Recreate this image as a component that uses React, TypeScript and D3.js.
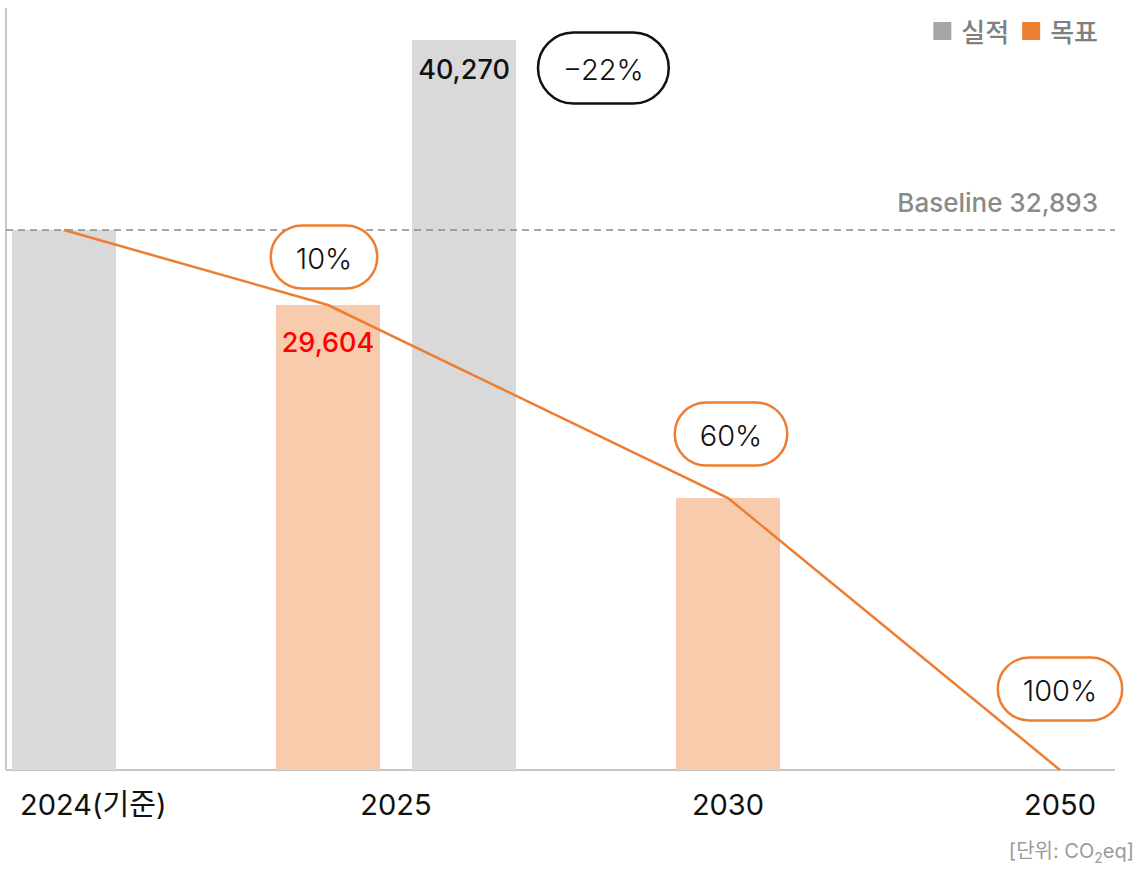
import React, { useEffect, useRef } from "react";
import * as d3 from "d3";

// ---- data ----
const categories = ["2024(기준)", "2025", "2030", "2050"];
const actualValues: (number | null)[] = [32893, 40270, null, null];
const targetValues: (number | null)[] = [null, 29604, 13157, 0];
const pathwayValues = [32893, 29604, 13157, 0];
const reductionLabels: (string | null)[] = [null, "10%", "60%", "100%"];
const actualChangeLabels: (string | null)[] = [null, "−22%", null, null];
const showActualValue = [false, true, false, false];
const showTargetValue = [false, true, false, false];
const baselineValue = 32893;
const legendLabels = ["실적", "목표"];

const W = 1139;
const H = 878;

export default function App() {
  const ref = useRef<SVGSVGElement>(null);

  useEffect(() => {
    const svg = d3.select(ref.current);
    svg.selectAll("*").remove();
    const FONT = "Inter, 'Noto Sans CJK KR', sans-serif";
    const GRAY_BAR = "#d9d9d9";
    const ORANGE_BAR = "#f8cbad";
    const ORANGE = "#ed7d31";

    const xLeft = 6, xRight = 1115, yBottom = 770, yTopAxis = 8;
    const x = d3.scalePoint<string>().domain(categories).range([64, 1060]);
    // chart is drawn not-to-scale in the source: piecewise linear value scale
    const y = d3
      .scaleLinear()
      .domain([0, targetValues[2] as number, targetValues[1] as number, baselineValue, actualValues[1] as number])
      .range([yBottom, 498, 305, 230, 40]);

    const barW = 104;
    const pairOff = 68;
    const fmt = d3.format(",");

    // axes
    svg.append("line").attr("x1", xLeft).attr("x2", xRight).attr("y1", yBottom).attr("y2", yBottom)
      .attr("stroke", "#c4c4c4").attr("stroke-width", 2);
    svg.append("line").attr("x1", xLeft).attr("x2", xLeft).attr("y1", yTopAxis).attr("y2", yBottom)
      .attr("stroke", "#c8c8c8").attr("stroke-width", 2);

    // bars
    categories.forEach((c, i) => {
      const cx = x(c) as number;
      const a = actualValues[i];
      const t = targetValues[i];
      const hasA = a != null && a > 0;
      const hasT = t != null && t > 0;
      const both = hasA && hasT;
      if (hasT) {
        const bx = both ? cx - pairOff : cx;
        svg.append("rect").attr("x", bx - barW / 2).attr("width", barW)
          .attr("y", y(t as number)).attr("height", yBottom - y(t as number)).attr("fill", ORANGE_BAR);
        if (showTargetValue[i]) {
          svg.append("text").attr("x", bx).attr("y", y(t as number) + 37)
            .attr("text-anchor", "middle").attr("dominant-baseline", "central")
            .attr("font-family", FONT).attr("font-size", 27).attr("font-weight", 500)
            .attr("fill", "#ff0000").text(fmt(t as number));
        }
      }
      if (hasA) {
        const bx = both ? cx + pairOff : cx;
        svg.append("rect").attr("x", bx - barW / 2).attr("width", barW)
          .attr("y", y(a as number)).attr("height", yBottom - y(a as number)).attr("fill", GRAY_BAR);
        if (showActualValue[i]) {
          svg.append("text").attr("x", bx).attr("y", y(a as number) + 29)
            .attr("text-anchor", "middle").attr("dominant-baseline", "central")
            .attr("font-family", FONT).attr("font-size", 27).attr("font-weight", 500)
            .attr("fill", "#111").text(fmt(a as number));
        }
        const lab = actualChangeLabels[i];
        if (lab) {
          pill(bx + barW / 2 + 22, y(a as number) + 28, lab, "#111", 71, "start");
        }
      }
    });

    // baseline
    svg.append("line").attr("x1", xLeft).attr("x2", xRight).attr("y1", y(baselineValue)).attr("y2", y(baselineValue))
      .attr("stroke", "#8a8a8a").attr("stroke-width", 1.6).attr("stroke-dasharray", "7 5");
    svg.append("text").attr("x", 1098).attr("y", y(baselineValue) - 18)
      .attr("text-anchor", "end").attr("font-family", FONT).attr("font-size", 26).attr("font-weight", 500)
      .attr("fill", "#8a8a8a").text(`Baseline ${fmt(baselineValue)}`);

    // pathway line
    const line = d3.line<number>()
      .x((_, i) => {
        const c = categories[i];
        const cx = x(c) as number;
        const a = actualValues[i];
        const t = targetValues[i];
        const both = a != null && a > 0 && t != null && t > 0;
        return both ? cx - pairOff : cx;
      })
      .y((v) => y(v));
    svg.append("path").datum(pathwayValues).attr("d", line).attr("fill", "none")
      .attr("stroke", ORANGE).attr("stroke-width", 2.5);

    // reduction pills
    const pillDy = [0, -48, -64, -81];
    const pillDx = [0, -4, 3, 0];
    reductionLabels.forEach((lab, i) => {
      if (!lab) return;
      const c = categories[i];
      const cx = x(c) as number;
      const a = actualValues[i];
      const t = targetValues[i];
      const both = a != null && a > 0 && t != null && t > 0;
      const px = (both ? cx - pairOff : cx) + pillDx[i];
      pill(px, y(pathwayValues[i]) + pillDy[i], lab, ORANGE, 63, "middle");
    });

    function pill(px: number, py: number, label: string, stroke: string, h: number, anchor: string) {
      const g = svg.append("g");
      const txt = g.append("text").attr("font-family", FONT).attr("font-size", 29).attr("font-weight", 300)
        .attr("fill", "#111").attr("dominant-baseline", "central").attr("text-anchor", "middle").text(label);
      const tw = (txt.node() as SVGTextElement).getComputedTextLength();
      const w = tw + 50;
      const cx = anchor === "start" ? px + w / 2 : px;
      txt.attr("x", cx).attr("y", py + 1);
      g.insert("rect", "text").attr("x", cx - w / 2).attr("y", py - h / 2).attr("width", w).attr("height", h)
        .attr("rx", h / 2).attr("ry", h / 2).attr("fill", "#fff").attr("stroke", stroke).attr("stroke-width", 2.5);
    }

    // x labels
    categories.forEach((c) => {
      const t = svg.append("text").attr("x", x(c) as number).attr("y", 815)
        .attr("text-anchor", "middle").attr("font-family", FONT).attr("font-size", 29).attr("fill", "#111").text(c);
      const bb = (t.node() as SVGTextElement).getBBox();
      if (bb.x < 20) t.attr("x", (x(c) as number) + (20 - bb.x));
    });

    // legend (right to left)
    const legendColors = ["#a6a6a6", ORANGE];
    let cur = 1098;
    for (let i = legendLabels.length - 1; i >= 0; i--) {
      const t = svg.append("text").attr("x", cur).attr("y", 32).attr("text-anchor", "end")
        .attr("dominant-baseline", "central").attr("font-family", FONT).attr("font-size", 26)
        .attr("font-weight", 500).attr("fill", "#7f7f7f").text(legendLabels[i]);
      const tw = (t.node() as SVGTextElement).getComputedTextLength();
      const sx = cur - tw - 10 - 18;
      svg.append("rect").attr("x", sx).attr("y", 22).attr("width", 18).attr("height", 18).attr("fill", legendColors[i]);
      cur = sx - 13;
    }

    // unit
    const u = svg.append("text").attr("x", 1134).attr("y", 858).attr("text-anchor", "end")
      .attr("font-family", FONT).attr("font-size", 20).attr("fill", "#9a9a9a");
    u.append("tspan").text("[단위: CO");
    u.append("tspan").attr("font-size", 14).attr("dy", 5).text("2");
    u.append("tspan").attr("dy", -5).text("eq]");
  }, []);

  return (
    <svg ref={ref} width={W} height={H} style={{ position: "absolute", left: 0, top: 0, background: "#fff" }} />
  );
}
